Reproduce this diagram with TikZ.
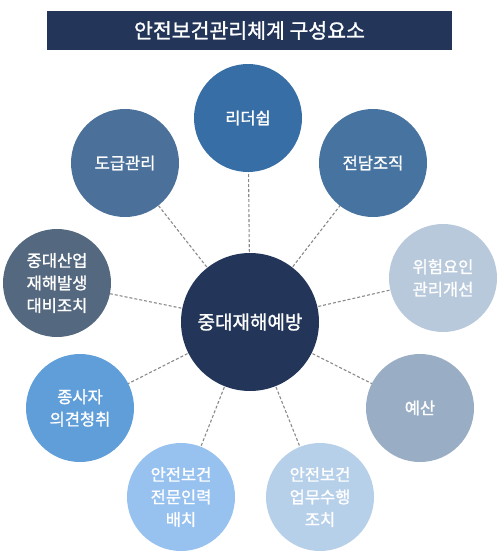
\documentclass[tikz,border=0pt]{standalone}
\usepackage{fontspec}
\setmainfont{Noto Sans CJK KR}[BoldFont=Noto Sans CJK KR, BoldFeatures={FakeBold=1.3}]
\definecolor{navy}{HTML}{233659}
\definecolor{cLead}{HTML}{386EA6}
\definecolor{cSub}{HTML}{4B7099}
\definecolor{cOrg}{HTML}{46739F}
\definecolor{cRisk}{HTML}{B9C9DC}
\definecolor{cBudget}{HTML}{99AEC5}
\definecolor{cDuty}{HTML}{B7D0EA}
\definecolor{cStaff}{HTML}{97C2F0}
\definecolor{cWork}{HTML}{5F9ED8}
\definecolor{cEmer}{HTML}{546880}
\definecolor{lineg}{HTML}{8A8A8A}
\begin{document}
\begin{tikzpicture}[x=1pt,y=-1pt,
  outer/.style={circle,minimum size=108pt,inner sep=0pt,text=white,font=\fontsize{16.5}{22.5}\selectfont\bfseries,align=center},
  link/.style={draw=lineg,dashed,dash pattern=on 3pt off 2pt,line width=1.1pt}]
\useasboundingbox[fill=white] (0,0) rectangle (500,554);
\node[fill=navy,minimum width=405pt,minimum height=39pt,inner sep=0pt,text=white,font=\fontsize{20.5}{22}\selectfont\bfseries] (title) at (249.5,30.5) {안전보건관리체계 구성요소};
\coordinate (c0) at (250,322);
\coordinate (p1) at (248,118);
\coordinate (p2) at (373,163);
\coordinate (p3) at (443,278);
\coordinate (p4) at (420,408);
\coordinate (p5) at (320,497);
\coordinate (p6) at (181,497);
\coordinate (p7) at (80,408);
\coordinate (p8) at (57,283);
\coordinate (p9) at (125,163);
\foreach \p in {p1,p2,p3,p4,p5,p6,p7,p8,p9} \draw[link] (c0) -- (\p);
\node[circle,fill=navy,minimum size=138pt,inner sep=0pt,text=white,font=\fontsize{19}{22}\selectfont\bfseries] (center) at (c0) {중대재해예방};
\node[outer,fill=cLead] (lead) at (p1) {리더쉽};
\node[outer,fill=cOrg] (org) at (p2) {전담조직};
\node[outer,fill=cRisk] (risk) at (p3) {위험요인\\관리개선};
\node[outer,fill=cBudget] (budget) at (p4) {예산};
\node[outer,fill=cDuty] (duty) at (p5) {안전보건\\업무수행\\조치};
\node[outer,fill=cStaff] (staff) at (p6) {안전보건\\전문인력\\배치};
\node[outer,fill=cWork] (work) at (p7) {종사자\\의견청취};
\node[outer,fill=cEmer] (emer) at (p8) {중대산업\\재해발생\\대비조치};
\node[outer,fill=cSub] (sub) at (p9) {도급관리};
\end{tikzpicture}
\end{document}
